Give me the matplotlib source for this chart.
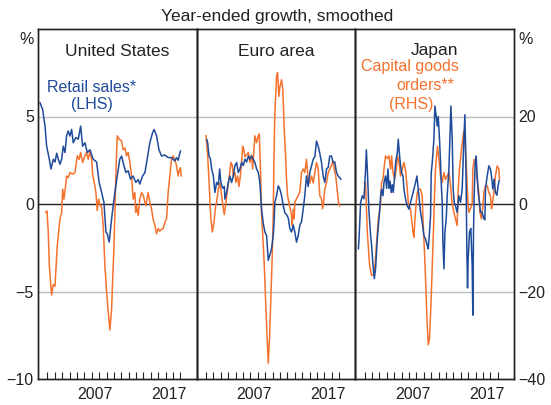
import matplotlib.pyplot as plt

plt.rcParams['font.family'] = ['Liberation Sans', 'DejaVu Sans']

BLUE = '#1f4b9b'
ORANGE = '#f4722e'

## retail sales (LHS, %) and capital goods orders (RHS, %) ##
us_rs_t = [2000.0, 2000.36, 2000.68, 2000.9, 2001.26, 2001.49, 2001.8, 2002.03, 2002.26, 2002.47,
           2002.7, 2002.93, 2003.15, 2003.38, 2003.6, 2003.82, 2004.05, 2004.28, 2004.5, 2004.86,
           2005.18, 2005.5, 2005.77, 2006.08, 2006.4, 2006.76, 2007.2, 2007.66, 2008.0, 2008.34,
           2008.65, 2008.92, 2009.1, 2009.36, 2009.69, 2009.9, 2010.14, 2010.45, 2010.8, 2011.04,
           2011.35, 2011.62, 2011.93, 2012.25, 2012.6, 2012.97, 2013.28, 2013.5, 2013.88, 2014.2,
           2014.5, 2014.86, 2015.23, 2015.45, 2015.77, 2016.1, 2016.45, 2016.9, 2017.34, 2017.8,
           2018.24, 2018.47, 2018.7, 2019.0]
us_rs = [5.78, 5.4, 4.45, 3.3, 2.56, 2.0, 2.56, 2.4, 2.9, 2.56,
         2.27, 2.56, 3.3, 2.94, 3.9, 4.17, 3.88, 4.26, 3.5, 3.8,
         3.7, 4.45, 3.3, 3.5, 2.94, 3.1, 2.56, 2.4, 1.23, 0.66,
         0.1, -1.6, -1.7, -2.18, -0.85, -0.1, 0.66, 1.6, 2.56, 2.74,
         2.2, 1.8, 1.9, 1.42, 1.6, 1.23, 1.4, 1.14, 1.6, 1.8,
         2.56, 3.5, 4.07, 4.26, 3.9, 3.1, 2.74, 2.8, 2.65, 2.65,
         2.46, 2.65, 2.5, 3.03]

us_cg_t = [2000.77, 2000.95, 2001.12, 2001.26, 2001.45, 2001.58, 2001.8, 2002.03, 2002.16, 2002.34,
           2002.57, 2002.7, 2002.93, 2003.07, 2003.24, 2003.47, 2003.6, 2003.82, 2004.05, 2004.42,
           2004.73, 2004.86, 2005.04, 2005.31, 2005.5, 2005.77, 2006.08, 2006.3, 2006.53, 2006.76,
           2006.99, 2007.12, 2007.34, 2007.57, 2007.74, 2007.93, 2008.0, 2008.34, 2008.55, 2008.78,
           2009.01, 2009.23, 2009.46, 2009.69, 2009.82, 2010.0, 2010.14, 2010.27, 2010.45, 2010.72,
           2011.04, 2011.26, 2011.49, 2011.72, 2011.93, 2012.16, 2012.39, 2012.61, 2012.84, 2012.95,
           2013.07, 2013.28, 2013.51, 2013.74, 2013.96, 2014.32, 2014.64, 2014.86, 2015.09, 2015.3,
           2015.54, 2015.77, 2015.99, 2016.2, 2016.45, 2016.66, 2016.9, 2017.12, 2017.26, 2017.34,
           2017.57, 2017.8, 2018.0, 2018.24, 2018.47, 2018.7, 2018.82, 2019.0, 2019.1]
us_cg = [-1.9, -1.6, -6.4, -14.0, -18.4, -20.8, -18.4, -18.8, -14.8, -9.5,
         -5.6, -3.4, -1.9, 3.4, 1.1, 4.2, 6.4, 6.0, 7.2, 6.8,
         7.2, 8.7, 11.0, 10.2, 11.8, 9.5, 11.0, 11.8, 10.2, 12.1,
         10.2, 6.8, 4.9, 2.6, -1.5, 1.1, 0.4, -0.8, -4.9, -14.0,
         -20.0, -24.6, -28.8, -24.0, -17.8, -10.2, -1.9, 7.2, 15.6, 14.8,
         14.4, 12.4, 12.8, 11.0, 11.8, 9.6, 6.4, 1.1, 2.6, -1.9,
         -0.4, -2.6, 1.1, 2.6, 2.0, -0.4, 2.6, 0.4, -1.1, -3.4,
         -4.9, -6.8, -5.6, -6.2, -5.8, -5.6, -4.2, -3.4, 0.4, 2.6,
         6.4, 10.2, 11.0, 10.2, 8.8, 6.4, 7.6, 8.3, 6.4]

ea_rs_t = [2001.08, 2001.22, 2001.39, 2001.58, 2001.76, 2001.99, 2002.2, 2002.43, 2002.66, 2002.84,
           2003.01, 2003.24, 2003.47, 2003.55, 2003.78, 2004.01, 2004.23, 2004.46, 2004.69, 2004.9,
           2005.14, 2005.36, 2005.58, 2005.81, 2006.04, 2006.26, 2006.49, 2006.72, 2006.93, 2007.16,
           2007.39, 2007.61, 2007.84, 2008.07, 2008.28, 2008.51, 2008.74, 2008.96, 2009.19, 2009.42,
           2009.64, 2009.86, 2010.09, 2010.23, 2010.31, 2010.54, 2010.77, 2010.99, 2011.22, 2011.45,
           2011.66, 2011.89, 2012.12, 2012.34, 2012.57, 2012.8, 2013.01, 2013.24, 2013.47, 2013.69,
           2013.92, 2014.15, 2014.36, 2014.59, 2014.82, 2015.04, 2015.27, 2015.5, 2015.72, 2015.95,
           2016.18, 2016.39, 2016.62, 2016.85, 2017.07, 2017.3, 2017.53, 2017.74, 2017.97, 2018.2,
           2018.42, 2018.65, 2018.88, 2019.09, 2019.23]
ea_rs = [3.69, 3.5, 2.74, 2.6, 2.0, 1.6, 0.66, 1.23, 1.1, 2.0,
         1.23, 0.9, 1.0, 0.28, 0.66, 1.23, 1.6, 1.23, 1.6, 2.18,
         2.37, 1.8, 2.0, 2.37, 2.2, 2.56, 2.4, 2.74, 2.56, 2.74,
         2.56, 2.37, 2.0, 1.8, 1.23, -0.3, -1.1, -1.6, -1.8, -3.22,
         -2.9, -2.56, -1.8, -0.85, 0.1, 0.47, 1.04, 0.85, 0.47, -0.1,
         -0.5, -0.6, -0.8, -1.4, -1.6, -1.2, -1.6, -2.18, -1.8, -1.23,
         -1.0, -0.28, 0.47, 1.6, 1.0, 1.8, 2.18, 2.56, 2.7, 3.6,
         3.3, 2.9, 2.37, 1.6, 1.23, 2.0, 2.1, 2.74, 2.74, 2.37,
         2.4, 1.8, 1.6, 1.5, 1.42]

ea_cg_t = [2000.99, 2001.22, 2001.39, 2001.53, 2001.66, 2001.85, 2002.07, 2002.3, 2002.43, 2002.66,
           2002.88, 2003.11, 2003.34, 2003.47, 2003.69, 2003.92, 2004.15, 2004.36, 2004.55, 2004.69,
           2004.9, 2005.04, 2005.27, 2005.45, 2005.64, 2005.81, 2005.95, 2006.12, 2006.26, 2006.49,
           2006.72, 2006.93, 2007.16, 2007.3, 2007.43, 2007.61, 2007.84, 2008.07, 2008.2, 2008.38,
           2008.51, 2008.65, 2008.88, 2009.05, 2009.23, 2009.42, 2009.59, 2009.77, 2009.96, 2010.09,
           2010.18, 2010.31, 2010.54, 2010.68, 2010.85, 2010.99, 2011.22, 2011.39, 2011.58, 2011.76,
           2011.89, 2012.03, 2012.2, 2012.39, 2012.57, 2012.66, 2012.8, 2012.93, 2013.01, 2013.24,
           2013.47, 2013.69, 2013.92, 2014.15, 2014.36, 2014.59, 2014.82, 2015.04, 2015.27, 2015.5,
           2015.72, 2015.95, 2016.18, 2016.39, 2016.62, 2016.76, 2016.9, 2017.07, 2017.3, 2017.53,
           2017.74, 2017.97, 2018.2, 2018.42, 2018.55, 2018.74, 2018.92, 2019.09]
ea_cg = [15.6, 11.0, 5.7, 0.4, -3.4, -6.4, -4.2, -0.4, 0.4, 3.4,
         4.8, 1.9, -1.1, -2.4, 0.4, 3.4, 6.4, 9.5, 8.8, 6.4,
         7.2, 4.9, 6.4, 4.0, 6.4, 9.5, 13.2, 12.4, 10.8, 11.2,
         11.8, 9.5, 11.2, 8.0, 11.2, 15.6, 14.0, 15.6, 16.0, 7.2,
         -2.6, -6.4, -14.0, -21.6, -29.2, -36.4, -30.7, -21.6, -11.6, -2.6,
         9.5, 20.8, 29.2, 30.0, 24.6, 26.8, 28.4, 26.0, 17.0, 11.0,
         5.7, 1.9, 0.4, -1.1, -2.6, -4.9, -1.2, -3.4, 0.4, 1.2,
         1.9, 2.8, 7.2, 8.0, 7.2, 10.2, 5.7, 4.8, 6.4, 4.8,
         7.2, 9.5, 8.0, 1.9, 1.2, -1.1, 0.4, 3.4, 4.9, 7.2,
         8.0, 8.8, 9.8, 7.2, 6.4, 3.4, 0.4, -0.4]

jp_rs_t = [2000.14, 2000.23, 2000.45, 2000.68, 2000.9, 2001.12, 2001.22, 2001.35, 2001.49, 2001.58,
           2001.8, 2001.93, 2002.12, 2002.3, 2002.47, 2002.7, 2002.93, 2003.07, 2003.15, 2003.28,
           2003.47, 2003.61, 2003.82, 2003.96, 2004.15, 2004.28, 2004.42, 2004.59, 2004.73, 2004.86,
           2005.04, 2005.18, 2005.41, 2005.54, 2005.72, 2005.85, 2005.99, 2006.18, 2006.31, 2006.45,
           2006.62, 2006.76, 2006.99, 2007.07, 2007.2, 2007.43, 2007.66, 2007.88, 2008.07, 2008.24,
           2008.42, 2008.55, 2008.78, 2009.01, 2009.23, 2009.46, 2009.59, 2009.77, 2009.91, 2010.0,
           2010.14, 2010.36, 2010.5, 2010.68, 2010.81, 2010.95, 2011.12, 2011.26, 2011.39, 2011.49,
           2011.58, 2011.72, 2011.85, 2012.03, 2012.16, 2012.39, 2012.57, 2012.66, 2012.84, 2012.97,
           2013.11, 2013.28, 2013.51, 2013.74, 2013.96, 2014.19, 2014.42, 2014.55, 2014.64, 2014.73,
           2014.82, 2014.91, 2015.0, 2015.18, 2015.36, 2015.54, 2015.63, 2015.72, 2015.81, 2015.95,
           2016.08, 2016.22, 2016.35, 2016.53, 2016.66, 2016.89, 2017.12, 2017.26, 2017.34, 2017.57,
           2017.8, 2018.01, 2018.15, 2018.34, 2018.51, 2018.69, 2018.88, 2019.05, 2019.19]
jp_rs = [-2.56, -2.0, 0.1, 0.47, 0.3, 2.0, 3.1, 2.0, 0.47, -0.47,
         -1.8, -2.37, -3.5, -4.26, -3.7, -2.0, -0.85, -0.1, 0.47, 0.85,
         0.47, 1.23, 1.6, 0.9, 2.0, 0.9, 1.3, 0.66, 1.1, 0.66,
         1.5, 2.37, 2.94, 3.7, 2.74, 2.2, 1.8, 1.6, 0.85, 0.47,
         0.1, -0.1, -0.3, -0.1, 0.1, 0.47, 0.85, 1.23, 1.6, 0.85,
         0.1, -0.47, -1.04, -1.8, -2.0, -2.37, -2.56, -1.6, -0.66, 1.8,
         2.37, 3.7, 5.6, 5.0, 4.45, 5.0, 3.7, 2.37, 0.85, 0.1,
         -2.18, -3.7, -1.6, -0.85, 0.47, 2.0, 4.26, 5.6, 3.7, 0.85,
         0.1, -0.1, -0.47, 0.47, 0.1, 0.85, 3.7, 5.1, 3.5, 0.85,
         -2.56, -4.8, -3.1, -1.6, -1.4, -3.5, -6.35, -1.6, 0.47, 2.37,
         2.74, 1.6, 0.66, 0.1, -0.47, -0.47, -0.85, -0.9, 0.85, 1.6,
         2.18, 2.0, 1.6, 0.85, 1.42, 0.66, 0.5, 1.04, 1.33]

jp_cg_t = [2000.95, 2001.1, 2001.35, 2001.66, 2001.93, 2002.16, 2002.39, 2002.61, 2002.84, 2003.15,
           2003.28, 2003.47, 2003.65, 2003.82, 2004.05, 2004.28, 2004.5, 2004.64, 2004.82, 2005.04,
           2005.27, 2005.41, 2005.64, 2005.85, 2006.08, 2006.31, 2006.53, 2006.76, 2006.89, 2006.99,
           2007.2, 2007.34, 2007.53, 2007.66, 2007.8, 2007.97, 2008.11, 2008.34, 2008.55, 2008.78,
           2008.88, 2009.05, 2009.23, 2009.42, 2009.59, 2009.77, 2009.96, 2010.14, 2010.31, 2010.41,
           2010.58, 2010.72, 2010.85, 2011.04, 2011.26, 2011.49, 2011.72, 2011.93, 2012.16, 2012.39,
           2012.57, 2012.74, 2012.84, 2013.07, 2013.28, 2013.51, 2013.65, 2013.82, 2014.01, 2014.19,
           2014.42, 2014.55, 2014.73, 2014.86, 2015.0, 2015.08, 2015.3, 2015.54, 2015.63, 2015.81,
           2015.99, 2016.22, 2016.45, 2016.58, 2016.8, 2016.99, 2017.12, 2017.34, 2017.57, 2017.8,
           2018.01, 2018.15, 2018.24, 2018.47, 2018.69, 2018.92, 2019.15, 2019.23]
jp_cg = [4.8, 5.0, -6.4, -14.0, -16.3, -16.3, -14.0, -8.7, -3.4, 0.0,
         4.9, 5.7, 8.7, 11.0, 10.4, 11.0, 8.0, 11.0, 7.2, 5.7,
         8.0, 11.0, 9.5, 6.4, 8.0, 9.5, 7.6, 3.4, 0.4, -0.4,
         -1.2, -3.4, -6.4, -7.6, -3.4, 0.4, 2.6, 3.4, 3.4, 1.9,
         -3.4, -9.5, -17.0, -26.0, -32.2, -30.7, -23.2, -14.0, -5.6, 0.4,
         8.0, 11.0, 13.2, 10.2, 6.4, 4.9, 7.2, 5.6, 6.4, 7.2,
         4.9, 1.9, 0.0, -1.9, -3.4, -4.9, 3.4, 8.0, 11.0, 14.0,
         16.7, 14.8, 9.5, 4.2, -0.4, -1.9, -1.1, 0.0, 8.0, 10.2,
         9.2, 5.7, 2.6, -1.9, -3.4, -0.4, 2.6, 4.2, 4.2, 2.6,
         1.9, -1.1, -0.4, 2.6, 6.4, 8.7, 8.0, 5.7]

panels = ['United States', 'Euro area', 'Japan']
retail = [(us_rs_t, us_rs), (ea_rs_t, ea_rs), (jp_rs_t, jp_rs)]
capgoods = [(us_cg_t, us_cg), (ea_cg_t, ea_cg), (jp_cg_t, jp_cg)]

W, H = 551, 405
fig = plt.figure(figsize=(W / 100, H / 100), dpi=100)

left, right, top, bottom = 38, 514, 29, 379
pw = (right - left) / 3

for i, name in enumerate(panels):
    ax = fig.add_axes([(left + i * pw) / W, 1 - bottom / H, pw / W, (bottom - top) / H])
    ax2 = ax.twinx()
    ax.set_zorder(ax2.get_zorder() + 1)
    ax.patch.set_visible(False)

    # reference lines on the back axis
    for yv, c in [(20, '#bdbdbd'), (-20, '#bdbdbd'), (0, '#222222')]:
        ax2.axhline(yv, color=c, lw=1.0, zorder=0)

    ax2.plot(capgoods[i][0], capgoods[i][1], color=ORANGE, lw=1.1)
    ax.plot(retail[i][0], retail[i][1], color=BLUE, lw=1.1)

    ax.set_xlim(1999.73, 2021.2)
    ax.set_ylim(-10, 10)
    ax2.set_ylim(-40, 40)

    ax.set_xticks([2007.5, 2017.5])
    ax.set_xticklabels(['2007', '2017'])
    ax.set_xticks(range(2001, 2020), minor=True)
    ax.tick_params(axis='x', which='major', length=0, pad=6, labelsize=11.5, colors='#222222')
    ax.tick_params(axis='x', which='minor', length=5, direction='in', width=0.8, color='#222222')

    ax.set_yticks([-10, -5, 0, 5])
    ax2.set_yticks([-40, -20, 0, 20])
    ax.tick_params(axis='y', length=0, pad=3, labelsize=11.5, colors='#222222',
                   labelleft=(i == 0))
    ax2.tick_params(axis='y', length=0, pad=3, labelsize=11.5, colors='#222222',
                    labelright=(i == 2))
    for a in (ax, ax2):
        for s in a.spines.values():
            s.set_color('#222222')
            s.set_linewidth(1.0)

    ax.text(0.5, 1 - (51 - top) / (bottom - top), name, transform=ax.transAxes,
            ha='center', va='center', fontsize=12.5, color='#222222')

# labels
fig.text(277 / W, 1 - 16 / H, 'Year-ended growth, smoothed', ha='center', va='center',
         fontsize=12.5, color='#222222')
fig.text(27 / W, 1 - 39 / H, '%', ha='center', va='center', fontsize=11.5, color='#222222')
fig.text(526 / W, 1 - 39 / H, '%', ha='center', va='center', fontsize=11.5, color='#222222')

fig.text(92 / W, 1 - 87 / H, 'Retail sales*', ha='center', va='center', fontsize=11.5, color=BLUE)
fig.text(92 / W, 1 - 104 / H, '(LHS)', ha='center', va='center', fontsize=11.5, color=BLUE)

fig.text(410 / W, 1 - 66 / H, 'Capital goods', ha='center', va='center', fontsize=11.5, color=ORANGE)
fig.text(425 / W, 1 - 86 / H, 'orders**', ha='center', va='center', fontsize=11.5, color=ORANGE)
fig.text(411 / W, 1 - 105 / H, '(RHS)', ha='center', va='center', fontsize=11.5, color=ORANGE)

fig.savefig('out.png', dpi=100)
